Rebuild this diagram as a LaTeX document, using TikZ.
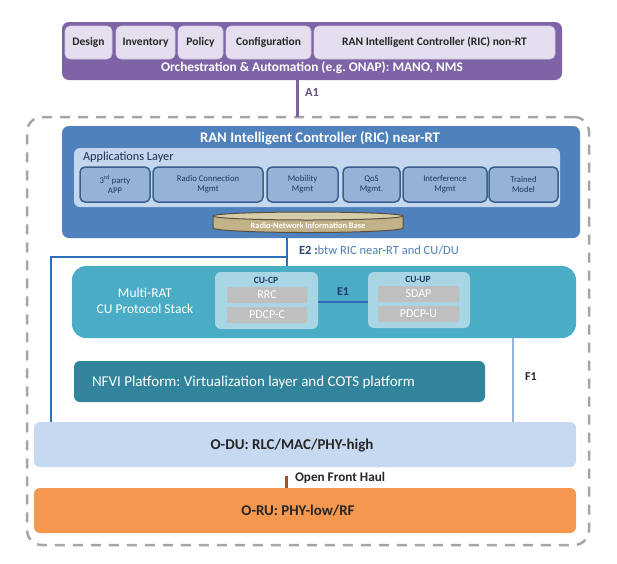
\documentclass[tikz,border=0pt]{standalone}
\usepackage{fontspec}
\setmainfont{Carlito}
\frenchspacing
\definecolor{purp}{HTML}{7E64A6}
\definecolor{purpsub}{HTML}{E4DEEE}
\definecolor{ricblue}{HTML}{4F81BD}
\definecolor{applayer}{HTML}{C5D7EE}
\definecolor{appbox}{HTML}{95B3D7}
\definecolor{appborder}{HTML}{3B5F8C}
\definecolor{e2blue}{HTML}{2E6FB7}
\definecolor{e2text}{HTML}{4F7FB8}
\definecolor{cuteal}{HTML}{4BACC6}
\definecolor{culight}{HTML}{A8D6E4}
\definecolor{graybox}{HTML}{BFBFBF}
\definecolor{nfvicol}{HTML}{31849B}
\definecolor{f1blue}{HTML}{95B3D7}
\definecolor{oducol}{HTML}{C6D9F1}
\definecolor{orucol}{HTML}{F4974F}
\definecolor{fhcol}{HTML}{A0522D}
\definecolor{dashcol}{HTML}{A6A6A6}
\definecolor{darktext}{HTML}{262626}
\definecolor{navy}{HTML}{1F3864}
\definecolor{rnibbody}{HTML}{C2B288}
\definecolor{rnibtop}{HTML}{D8CDA9}
\newcommand{\fs}[1]{\fontsize{#1pt}{\dimexpr #1pt*115/100\relax}\selectfont}
\tikzset{
  box/.style={anchor=north west, inner sep=0pt, outer sep=0pt, rounded corners=5pt},
  lbl/.style={inner sep=0pt, outer sep=0pt},
  purpsubbox/.style={box, fill=purpsub, draw=purpsub!80!purp, line width=0.6pt, text=darktext, font=\fs{11.5}\bfseries},
  appbx/.style={box, fill=appbox, draw=appborder, line width=1.5pt, text=navy, font=\fs{8.7}, align=center},
  graybx/.style={box, rounded corners=1pt, fill=graybox, text=white, font=\fs{12}},
  culbl/.style={lbl, text=navy, font=\fs{9.5}\bfseries},
  cylline/.style={draw=rnibbody!45!black, line width=1pt},
}
\begin{document}
\begin{tikzpicture}[x=1pt,y=-1pt]
\useasboundingbox (0,0) rectangle (617,563);
\fill[white] (0,0) rectangle (617,563);
% outer dashed border
\node[box, rounded corners=15pt, draw=dashcol, line width=2.5pt, dash pattern=on 10pt off 8pt, minimum width=562, minimum height=428] (border) at (27,117) {};
% orchestration
\node[box, rounded corners=7pt, fill=purp, minimum width=500, minimum height=58] (orch) at (62,22) {};
\node[purpsubbox, minimum width=47, minimum height=33] (design) at (65,26) {Design};
\node[purpsubbox, minimum width=59, minimum height=33] (inventory) at (116,26) {Inventory};
\node[purpsubbox, minimum width=45, minimum height=33] (policy) at (178,26) {Policy};
\node[purpsubbox, minimum width=85, minimum height=33] (config) at (226,26) {Configuration};
\node[purpsubbox, minimum width=241, minimum height=33] (nonrt) at (314,26) {RAN Intelligent Controller (RIC) non-RT};
\node[lbl, text=white, font=\fs{13.3}\bfseries] (orchlbl) at (312,68) {Orchestration \& Automation (e.g. ONAP): MANO, NMS};
% A1
\coordinate (a1x) at (297,0);
\draw[purp, line width=3pt] (orch.south -| a1x) -- (border.north -| a1x);
\node[lbl, anchor=west, text=purp!80!black, font=\fs{12.5}\bfseries] (a1) at (305,92) {A1};
% RIC near-RT
\node[box, rounded corners=7pt, fill=ricblue, minimum width=518, minimum height=112] (ric) at (62,126) {};
\node[lbl, text=white, font=\fs{14.7}\bfseries] (rictitle) at (320,138) {RAN Intelligent Controller (RIC) near-RT};
\node[box, rounded corners=6pt, fill=applayer, minimum width=486, minimum height=59] (apps) at (74,148) {};
\node[lbl, anchor=west, text=navy!80!black, font=\fs{12.3}] (appslbl) at (83,157) {Applications Layer};
\node[appbx, minimum width=70, minimum height=35] (thirdp) at (80,167) {3\textsuperscript{rd} party\\APP};
\node[appbx, minimum width=110, minimum height=35] (radioc) at (153,167) {Radio Connection\\Mgmt};
\node[appbx, minimum width=71, minimum height=35] (mobil) at (267,167) {Mobility\\Mgmt};
\node[appbx, minimum width=57, minimum height=35] (qos) at (343,167) {QoS\\Mgmt.};
\node[appbx, minimum width=84, minimum height=35] (interf) at (403,167) {Interference\\Mgmt};
\node[appbx, minimum width=69, minimum height=35] (trained) at (489,167) {Trained\\Model};
% RNIB cylinder
\path[fill=rnibbody] (213,216) -- (213,228) arc[start angle=180, end angle=0, x radius=95, y radius=4.5] -- (403,216) -- cycle;
\draw[cylline] (213,216) -- (213,228) arc[start angle=180, end angle=0, x radius=95, y radius=4.5] -- (403,216);
\draw[cylline, fill=rnibtop] (308,216) ellipse[x radius=95, y radius=4];
\node[lbl, text=white, font=\fs{8.4}\bfseries] (rnib) at (308,225.5) {Radio-Network Information Base};
% CU
\node[box, rounded corners=14pt, fill=cuteal, minimum width=504, minimum height=72] (cu) at (72,266) {};
\node[lbl, text=white, font=\fs{13.5}, align=center] (multirat) at (145,301) {Multi-RAT\\CU Protocol Stack};
\node[box, rounded corners=6pt, fill=culight, minimum width=103, minimum height=57] (cucp) at (215,272) {};
\node[culbl] (cucplbl) at (266,280) {CU-CP};
\node[graybx, minimum width=80, minimum height=16] (rrc) at (227,287) {RRC};
\node[graybx, minimum width=80, minimum height=16] (pdcpc) at (227,307) {PDCP-C};
\node[box, rounded corners=6pt, fill=culight, minimum width=102, minimum height=56] (cuup) at (368,272) {};
\node[culbl] (cuuplbl) at (418,279) {CU-UP};
\node[graybx, minimum width=81, minimum height=16] (sdap) at (378,286) {SDAP};
\node[graybx, minimum width=81, minimum height=16] (pdcpu) at (378,306) {PDCP-U};
\coordinate (e1y) at (0,302);
\draw[e2blue, line width=2.5pt] (cucp.east |- e1y) -- (cuup.west |- e1y);
\node[lbl, text=navy, font=\fs{12}\bfseries] (e1) at (343,292) {E1};
% NFVI
\node[box, rounded corners=6pt, fill=nfvicol, minimum width=411, minimum height=41] (nfvi) at (74,361) {};
\node[lbl, anchor=west, text=white, font=\fs{15}] (nfvilbl) at (92,382) {NFVI Platform: Virtualization layer and COTS platform};
% O-DU, O-RU
\node[box, rounded corners=6pt, fill=oducol, minimum width=542, minimum height=45] (odu) at (34,422) {};
\node[lbl, text=darktext, font=\fs{15}\bfseries] (odulbl) at (292,445) {O-DU: RLC/MAC/PHY-high};
\node[box, rounded corners=6pt, fill=orucol, minimum width=542, minimum height=45] (oru) at (34,488) {};
\node[lbl, text=darktext, font=\fs{14.9}\bfseries] (orulbl) at (298,511) {O-RU: PHY-low/RF};
% E2
\coordinate (e2x) at (287,0);
\coordinate (e2j) at (287,257);
\coordinate (e2l) at (51,0);
\draw[e2blue, line width=2.5pt] (ric.south -| e2x) -- (cu.north -| e2x);
\draw[e2blue, line width=2.5pt] (e2j) -| (odu.north -| e2l);
\node[lbl, anchor=west, text=e2text, font=\fs{12.5}] (e2lbl) at (299,250) {\textbf{\color{navy!80!e2text}E2 :}btw RIC near-RT and CU/DU};
% F1
\coordinate (f1x) at (513,0);
\draw[f1blue, line width=2pt] (cu.south -| f1x) -- (odu.north -| f1x);
\node[lbl, text=darktext, font=\fs{12}\bfseries] (f1) at (531,377) {F1};
% front haul
\coordinate (fhtop) at (286,476);
\draw[fhcol, line width=3pt] (fhtop) -- (oru.north -| fhtop);
\node[lbl, anchor=west, text=darktext, font=\fs{13.2}\bfseries] (fhlbl) at (295,478) {Open Front Haul};
\end{tikzpicture}
\end{document}
